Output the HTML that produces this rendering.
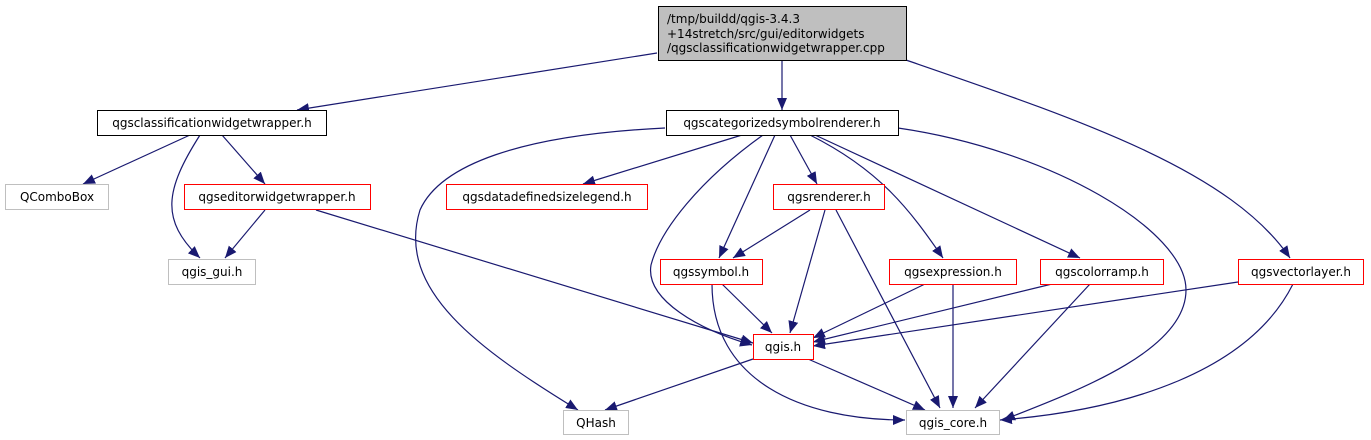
<!DOCTYPE html>
<html><head><meta charset="utf-8"><style>
html,body{margin:0;padding:0;background:#fff;}
svg{display:block;}
text{font-family:"DejaVu Sans","Liberation Sans",sans-serif;font-size:12px;fill:#000;}
</style></head><body>
<svg width="1371" height="440" viewBox="0 0 1371 440" xmlns="http://www.w3.org/2000/svg">
<defs>
<marker id="a" markerUnits="userSpaceOnUse" markerWidth="12" markerHeight="10" refX="12" refY="5" orient="auto">
<path d="M0,0 L12,5 L0,10 z" fill="#191970"/>
</marker>
</defs>
<g fill="none" stroke="#191970" stroke-width="1.2" marker-end="url(#a)">
<path d="M657,53 L297,110"/>
<path d="M782,61 L782,110"/>
<path d="M906,60 C1080,120 1230,170 1290,258"/>
<path d="M190,135 L83,184"/>
<path d="M200,135 C165,190 160,220 200,258"/>
<path d="M222,135 L265,184"/>
<path d="M265,210 L225,258"/>
<path d="M316,210 L753,343"/>
<path d="M665,128 C520,135 440,165 420,210 C395,290 480,350 578,410"/>
<path d="M742,135 L583,184"/>
<path d="M763,135 C700,180 660,230 651,265 C645,300 700,330 752,345"/>
<path d="M775,135 L719,258"/>
<path d="M790,135 L817,184"/>
<path d="M810,135 C880,170 910,210 943,258"/>
<path d="M815,135 L1080,258"/>
<path d="M898,128 C1050,150 1186,230 1186,290 C1186,350 1080,390 1003,420"/>
<path d="M810,210 L733,258"/>
<path d="M825,210 L790,333"/>
<path d="M836,210 L940,408"/>
<path d="M722,284 L772,333"/>
<path d="M712,284 C712,380 800,420 905,420"/>
<path d="M925,284 L813,338"/>
<path d="M953,284 L953,408"/>
<path d="M1052,284 L813,342"/>
<path d="M1090,284 L975,408"/>
<path d="M1238,282 L813,346"/>
<path d="M1293,284 C1250,370 1130,410 1000,420"/>
<path d="M753,359 L605,410"/>
<path d="M808,359 L925,410"/>
</g>
<g stroke-width="1">
<rect x="658.5" y="6.5" width="248" height="54" fill="#bfbfbf" stroke="#000"/>
<rect x="97.5" y="110.5" width="229" height="25" fill="#fff" stroke="#000"/>
<rect x="666.5" y="110.5" width="232" height="25" fill="#fff" stroke="#000"/>
<rect x="5.5" y="184.5" width="103" height="25" fill="#fff" stroke="#bfbfbf"/>
<rect x="184.5" y="184.5" width="186" height="25" fill="#fff" stroke="#ff0000"/>
<rect x="446.5" y="184.5" width="201" height="25" fill="#fff" stroke="#ff0000"/>
<rect x="773.5" y="184.5" width="111" height="25" fill="#fff" stroke="#ff0000"/>
<rect x="168.5" y="259.5" width="87" height="25" fill="#fff" stroke="#bfbfbf"/>
<rect x="660.5" y="259.5" width="102" height="25" fill="#fff" stroke="#ff0000"/>
<rect x="889.5" y="259.5" width="127" height="25" fill="#fff" stroke="#ff0000"/>
<rect x="1040.5" y="259.5" width="123" height="25" fill="#fff" stroke="#ff0000"/>
<rect x="1238.5" y="259.5" width="125" height="25" fill="#fff" stroke="#ff0000"/>
<rect x="753.5" y="334.5" width="60" height="25" fill="#fff" stroke="#ff0000"/>
<rect x="563.5" y="410.5" width="65" height="24" fill="#fff" stroke="#bfbfbf"/>
<rect x="906.5" y="410.5" width="93" height="24" fill="#fff" stroke="#bfbfbf"/>
</g>
<text x="667" y="23">/tmp/buildd/qgis-3.4.3</text>
<text x="667" y="38">+14stretch/src/gui/editorwidgets</text>
<text x="667" y="52">/qgsclassificationwidgetwrapper.cpp</text>
<g text-anchor="middle">
<text x="212" y="127">qgsclassificationwidgetwrapper.h</text>
<text x="782" y="127">qgscategorizedsymbolrenderer.h</text>
<text x="57" y="201">QComboBox</text>
<text x="277" y="201">qgseditorwidgetwrapper.h</text>
<text x="547" y="201">qgsdatadefinedsizelegend.h</text>
<text x="829" y="201">qgsrenderer.h</text>
<text x="212" y="276">qgis_gui.h</text>
<text x="711" y="276">qgssymbol.h</text>
<text x="953" y="276">qgsexpression.h</text>
<text x="1102" y="276">qgscolorramp.h</text>
<text x="1301" y="276">qgsvectorlayer.h</text>
<text x="783" y="351">qgis.h</text>
<text x="596" y="427">QHash</text>
<text x="953" y="427">qgis_core.h</text>
</g>
</svg>
</body></html>
